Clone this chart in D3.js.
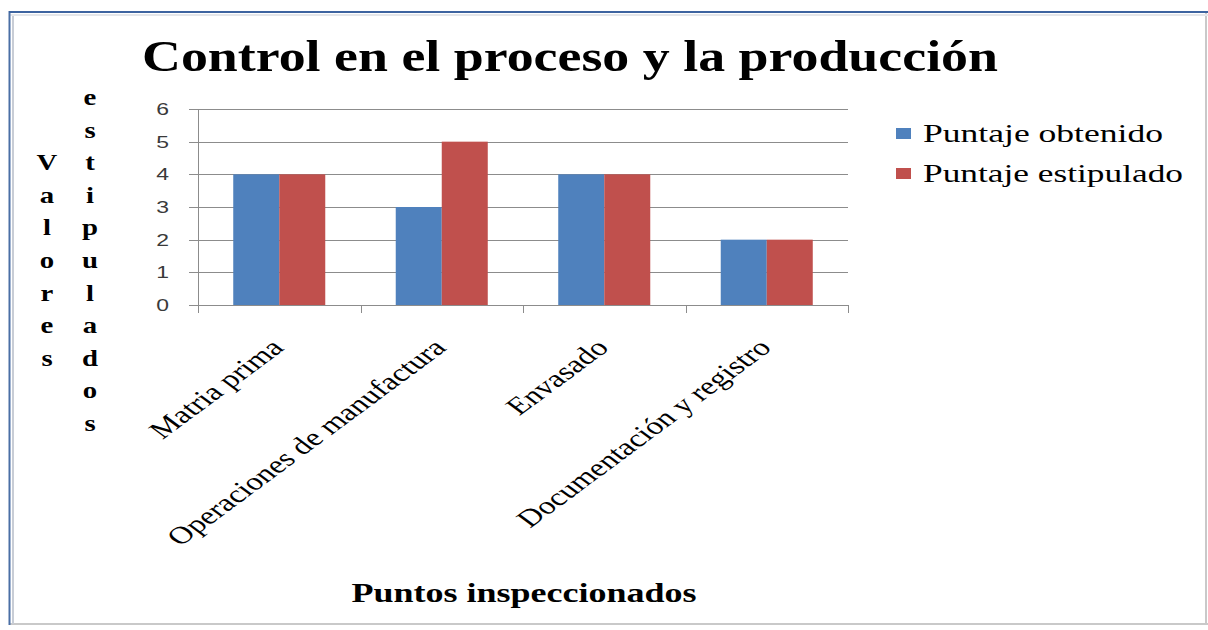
<!DOCTYPE html>
<html><head><meta charset="utf-8">
<script src="https://cdn.jsdelivr.net/npm/d3@7"></script>
<style>body{margin:0;background:#fff}svg{display:block}</style>
</head><body>
<svg id="c" width="1208" height="630"></svg>
<script>
const categories = ["Matria prima", "Operaciones de manufactura", "Envasado", "Documentación y registro"];
const seriesNames = ["Puntaje obtenido", "Puntaje estipulado"];
const obtenido = [4, 3, 4, 2];
const estipulado = [4, 5, 4, 2];
const yTicks = [0, 1, 2, 3, 4, 5, 6];
const colors = ["#4F81BD", "#C0504D"];
const title = "Control en el proceso y la producción";
const xTitle = "Puntos inspeccionados";
const yTitleWords = ["Valores", "estipulados"];

const svg = d3.select("#c");
const SX = 1.35; // horizontal stretch of the original picture
const serif = "'Liberation Serif','Times New Roman',serif";
const sans = "'Liberation Sans',Arial,sans-serif";

// frame
svg.append("rect").attr("x",10).attr("y",12).attr("width",1196).attr("height",612).attr("fill","#fff");
svg.append("line").attr("x1",1206).attr("x2",1206).attr("y1",12).attr("y2",625).attr("stroke","#c9c9c9").attr("stroke-width",2);
svg.append("line").attr("x1",9).attr("x2",1208).attr("y1",624).attr("y2",624).attr("stroke","#c9c9c9").attr("stroke-width",2);
svg.append("line").attr("x1",13).attr("x2",13).attr("y1",15).attr("y2",624).attr("stroke","#c8cdd6").attr("stroke-width",2);
svg.append("line").attr("x1",9).attr("x2",1208).attr("y1",15).attr("y2",15).attr("stroke","#e4e6ea").attr("stroke-width",2);
svg.append("line").attr("x1",9.5).attr("x2",9.5).attr("y1",11).attr("y2",625).attr("stroke","#4a6fa5").attr("stroke-width",2);
svg.append("line").attr("x1",9).attr("x2",1208).attr("y1",12).attr("y2",12).attr("stroke","#3d64a0").attr("stroke-width",2);

// scales
const x0 = d3.scaleBand().domain(categories).range([198, 848]).padding(0);
const x1 = d3.scaleBand().domain(seriesNames).range([0, x0.bandwidth()]).paddingInner(0).paddingOuter(0.766);
const y = d3.scaleLinear().domain([0, 6]).range([305, 109]);

// gridlines
const g = svg.append("g");
g.selectAll("line.grid").data(yTicks).join("line")
  .attr("x1", 189).attr("x2", 848)
  .attr("y1", d => Math.round(y(d)) + 0.5).attr("y2", d => Math.round(y(d)) + 0.5)
  .attr("stroke", "#8c8c8c").attr("stroke-width", 1);
// y axis line
g.append("line").attr("x1",198.5).attr("x2",198.5).attr("y1",y(6)).attr("y2",y(0)+8)
  .attr("stroke","#8c8c8c");
// category ticks
const catTicks = categories.map(c => x0(c)).concat([x0.range()[1]]);
g.selectAll("line.ct").data(catTicks).join("line")
  .attr("x1", d => Math.round(d) + 0.5).attr("x2", d => Math.round(d) + 0.5)
  .attr("y1", y(0)).attr("y2", y(0) + 8).attr("stroke", "#8c8c8c");

// bars
const rows = categories.map((c, i) => ({cat: c, vals: [obtenido[i], estipulado[i]]}));
const grp = svg.append("g").selectAll("g").data(rows).join("g")
  .attr("transform", d => `translate(${x0(d.cat)},0)`);
grp.selectAll("rect").data(d => d.vals.map((v, j) => ({s: seriesNames[j], v, j}))).join("rect")
  .attr("x", d => x1(d.s)).attr("width", x1.bandwidth())
  .attr("y", d => y(d.v)).attr("height", d => y(0) - y(d.v))
  .attr("fill", d => colors[d.j]);

// y tick labels
svg.append("g").selectAll("text").data(yTicks).join("text")
  .attr("transform", d => `translate(169,${y(d)}) scale(${SX},1)`)
  .attr("dy", "0.36em").attr("text-anchor", "end")
  .attr("font-family", sans).attr("font-size", 17).attr("fill", "#3a3a3a")
  .text(d => d);

// x category labels (rotated)
svg.append("g").selectAll("text").data(categories).join("text")
  .attr("transform", d => `translate(${x0(d) + x0.bandwidth()/2 + 6},349) scale(${SX},1) rotate(-45)`)
  .attr("text-anchor", "end")
  .attr("font-family", serif).attr("font-size", 24.5).attr("fill", "#000")
  .text(d => d);

// title
svg.append("text").attr("x", 570).attr("y", 71).attr("text-anchor", "middle")
  .attr("font-family", serif).attr("font-weight", "bold").attr("font-size", 45)
  .attr("textLength", 856).attr("lengthAdjust", "spacingAndGlyphs")
  .text(title);

// x axis title
svg.append("text").attr("x", 524).attr("y", 602).attr("text-anchor", "middle")
  .attr("font-family", serif).attr("font-weight", "bold").attr("font-size", 27)
  .attr("textLength", 345).attr("lengthAdjust", "spacingAndGlyphs")
  .text(xTitle);

// y axis title, stacked letters in two columns
const colX = [47, 90];
const rowStart = [2, 0];
yTitleWords.forEach((w, ci) => {
  svg.append("g").selectAll("text").data(Array.from(w)).join("text")
    .attr("transform", (ch, k) => `translate(${colX[ci]},${105 + (rowStart[ci] + k) * 32.6}) scale(1.2,1)`)
    .attr("text-anchor", "middle")
    .attr("font-family", serif).attr("font-weight", "bold").attr("font-size", 24)
    .text(ch => ch);
});

// legend
const legW = [240, 260];
const leg = svg.append("g").selectAll("g").data(seriesNames).join("g")
  .attr("transform", (d, i) => `translate(896,${128 + i * 40})`);
leg.append("rect").attr("width", 15).attr("height", 11).attr("fill", (d, i) => colors[i]);
leg.append("text").attr("x", 27).attr("y", 14)
  .attr("font-family", serif).attr("font-size", 26)
  .attr("textLength", (d, i) => legW[i]).attr("lengthAdjust", "spacingAndGlyphs")
  .text(d => d);
</script>
</body></html>
